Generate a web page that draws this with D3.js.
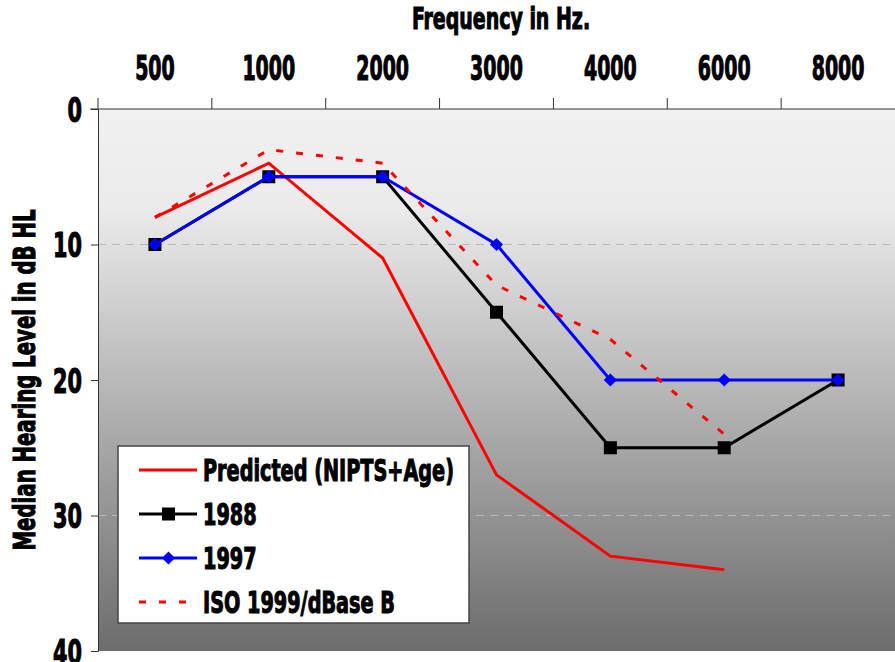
<!DOCTYPE html>
<html>
<head>
<meta charset="utf-8">
<script src="https://cdn.jsdelivr.net/npm/d3@7"></script>
<style>
  body { margin: 0; background: #fff; }
  text { font-family: "DejaVu Sans Condensed", "DejaVu Sans", sans-serif; font-weight: bold; fill: #000; stroke: #000; stroke-width: 1.1px; }
</style>
</head>
<body>
<div id="graph"></div>
<script>
const WIDTH = 895, HEIGHT = 662;
const margin = {top: 109, right: 0, bottom: 11, left: 98};

// data
const frequencies = ["500", "1000", "2000", "3000", "4000", "6000", "8000"];
const predicted = [8, 4, 11, 27, 33, 34, null];
const year1988 = [10, 5, 5, 15, 25, 25, 20];
const year1997 = [10, 5, 5, 10, 20, 20, 20];
const iso1999 = [8, 3, 4, 13, 17, 24, null];
const yTicks = [0, 10, 20, 30, 40];
const gridValues = [10, 20, 30];
const legendLabels = ["Predicted (NIPTS+Age)", "1988", "1997", "ISO 1999/dBase B"];

let svg = d3.select("#graph")
    .append("svg")
    .attr("width", WIDTH)
    .attr("height", HEIGHT);

let w = WIDTH - margin.left - margin.right;
let h = HEIGHT - margin.top - margin.bottom;

let g = svg.append("g")
    .attr("transform", `translate(${margin.left}, ${margin.top})`);

let x = d3.scaleBand().domain(frequencies).range([0, w]);
let y = d3.scaleLinear().domain([0, 40]).range([0, h]);

// squeeze text horizontally so it looks like a condensed heavy face
function condense(sel, factor) {
    sel.each(function() {
        let len = this.getComputedTextLength();
        d3.select(this).attr("textLength", len * factor).attr("lengthAdjust", "spacingAndGlyphs");
    });
}

// background gradient
let grad = svg.append("defs").append("linearGradient")
    .attr("id", "bg").attr("x1", 0).attr("y1", 0).attr("x2", 0).attr("y2", 1);
grad.append("stop").attr("offset", "0%").attr("stop-color", "#f1f1f1");
grad.append("stop").attr("offset", "18%").attr("stop-color", "#ebebeb");
grad.append("stop").attr("offset", "100%").attr("stop-color", "#6c6c6c");

g.append("rect")
    .attr("width", w).attr("height", h)
    .attr("fill", "url(#bg)");

// grid
g.selectAll(".grid").data(gridValues).enter().append("line")
    .attr("x1", 0).attr("x2", w)
    .attr("y1", d => y(d)).attr("y2", d => y(d))
    .attr("stroke", "#b8b8b8").attr("stroke-width", 1.2)
    .attr("stroke-dasharray", "8,6");

// axes
let yAxis = g.append("g")
    .call(d3.axisLeft(y).tickValues(yTicks).tickSize(7).tickFormat(d3.format("d")));
yAxis.select(".domain").attr("stroke", "#333");
yAxis.selectAll(".tick line").attr("stroke", "#333");
yAxis.selectAll("text")
    .style("font-size", "34px")
    .attr("x", -16)
    .attr("dy", "0.36em");
condense(yAxis.selectAll("text"), 0.68);

let xAxis = g.append("g")
    .call(d3.axisTop(x).tickSize(0));
xAxis.select(".domain").remove();
xAxis.selectAll(".tick line").remove();
xAxis.selectAll("text")
    .style("font-size", "34px")
    .attr("y", -29)
    .attr("dy", 0);
condense(xAxis.selectAll("text"), 0.62);

// top axis line and boundary ticks
g.append("line")
    .attr("x1", -8).attr("x2", w).attr("y1", 0).attr("y2", 0)
    .attr("stroke", "#333");
let bounds = frequencies.map(f => x(f));
g.selectAll(".xtick").data(bounds).enter().append("line")
    .attr("x1", d => d).attr("x2", d => d)
    .attr("y1", 0).attr("y2", -11)
    .attr("stroke", "#333");

// titles
let title = svg.append("text")
    .attr("x", 501).attr("y", 29)
    .attr("text-anchor", "middle")
    .style("font-size", "31px")
    .text("Frequency in Hz.");
condense(title, 0.68);

let ytitle = svg.append("text")
    .attr("transform", `translate(35, 380) rotate(-90)`)
    .attr("text-anchor", "middle")
    .style("font-size", "30px")
    .text("Median Hearing Level in dB HL");
condense(ytitle, 0.73);

// lines
let cx = d => x(d) + x.bandwidth() / 2;
let lineGen = vals => d3.line()
    .defined(d => vals[frequencies.indexOf(d)] != null)
    .x(d => cx(d))
    .y(d => y(vals[frequencies.indexOf(d)]));

g.append("path").attr("d", lineGen(predicted)(frequencies))
    .attr("fill", "none").attr("stroke", "#ff0000").attr("stroke-width", 3);

g.append("path").attr("d", lineGen(year1988)(frequencies))
    .attr("fill", "none").attr("stroke", "#000").attr("stroke-width", 3);
g.selectAll(".sq").data(frequencies).enter().append("rect")
    .attr("x", d => cx(d) - 6.5)
    .attr("y", (d, i) => y(year1988[i]) - 6.5)
    .attr("width", 13).attr("height", 13)
    .attr("fill", "#000");

g.append("path").attr("d", lineGen(year1997)(frequencies))
    .attr("fill", "none").attr("stroke", "#0000ff").attr("stroke-width", 3);
let diamond = d3.symbol().type(d3.symbolDiamond2).size(110);
g.selectAll(".dm").data(frequencies).enter().append("path")
    .attr("d", diamond)
    .attr("transform", (d, i) => `translate(${cx(d)}, ${y(year1997[i])})`)
    .attr("fill", "#0000ff");

g.append("path").attr("d", lineGen(iso1999)(frequencies))
    .attr("fill", "none").attr("stroke", "#ff0000").attr("stroke-width", 3)
    .attr("stroke-dasharray", "7,13");

// legend
let legend = svg.append("g").attr("transform", "translate(118, 446)");
legend.append("rect")
    .attr("width", 351).attr("height", 177)
    .attr("fill", "#fff").attr("stroke", "#444").attr("stroke-width", 1.5);

let rows = legend.selectAll(".row").data(legendLabels).enter().append("g")
    .attr("transform", (d, i) => `translate(0, ${24 + i * 44})`);

rows.append("line")
    .attr("x1", 21).attr("x2", 79).attr("y1", 0).attr("y2", 0)
    .attr("stroke", (d, i) => [ "#ff0000", "#000", "#0000ff", "#ff0000" ][i])
    .attr("stroke-width", 3)
    .attr("stroke-dasharray", (d, i) => i == 3 ? "7,13" : null);

rows.filter((d, i) => i == 1).append("rect")
    .attr("x", 44).attr("y", -6.5).attr("width", 13).attr("height", 13).attr("fill", "#000");
rows.filter((d, i) => i == 2).append("path")
    .attr("d", diamond).attr("transform", "translate(50.5, 0)").attr("fill", "#0000ff");

let ltext = rows.append("text")
    .attr("x", 85).attr("y", 11)
    .style("font-size", "31px")
    .text(d => d);
condense(ltext, 0.69);
</script>
</body>
</html>
